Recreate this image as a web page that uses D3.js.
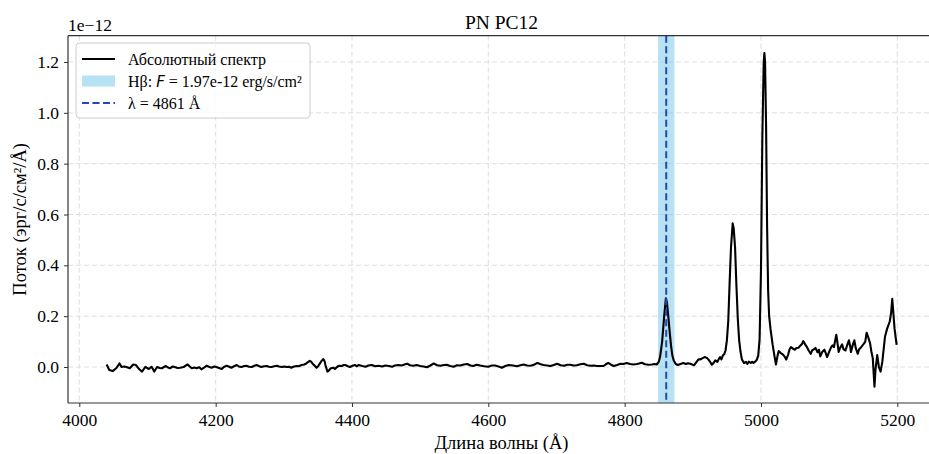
<!DOCTYPE html>
<html><head><meta charset="utf-8">
<script src="https://cdn.jsdelivr.net/npm/d3@7"></script>
<style>
body{margin:0;background:#fff;}
text{font-family:"Liberation Serif","Times New Roman",serif;fill:#000;}
</style>
</head><body>
<svg id="chart" width="929" height="454"></svg>
<script>
// Data (flux in units of 1e-12 erg/s/cm²/Å)
const wavelength = [4040,4044,4049,4054,4059,4062,4066,4069,4074,4079,4083,4088,4092,4097,4102,4106,4110,4114,4118,4121,4127,4130,4133,4137,4140,4144,4148,4153,4159,4162,4165,4169,4172,4176,4179,4183,4187,4190,4194,4198,4201,4205,4209,4212,4216,4220,4223,4227,4231,4234,4238,4242,4245,4249,4253,4256,4260,4264,4267,4271,4275,4278,4282,4286,4290,4293,4297,4301,4304,4308,4311,4315,4319,4322,4326,4330,4333,4336,4338,4340,4342,4345,4348,4350,4353,4356,4358,4360,4361,4364,4366,4369,4373,4375,4378,4381,4385,4388,4390,4394,4397,4400,4404,4407,4410,4415,4420,4424,4429,4434,4439,4444,4449,4454,4459,4463,4468,4473,4477,4481,4485,4490,4495,4500,4505,4510,4515,4520,4525,4530,4535,4539,4544,4549,4554,4559,4564,4569,4574,4578,4583,4588,4594,4600,4605,4610,4615,4620,4625,4630,4636,4642,4647,4652,4657,4662,4667,4672,4677,4681,4686,4691,4696,4701,4706,4711,4716,4720,4725,4730,4735,4740,4745,4750,4755,4759,4764,4769,4772,4776,4780,4784,4789,4794,4798,4803,4808,4813,4818,4821,4825,4830,4835,4840,4844,4847,4850,4852,4855,4858,4860.5,4862,4864,4866,4868,4870,4872,4875,4878,4882,4886,4890,4893,4896,4899,4902,4905,4908,4912,4915,4918,4921,4923,4926,4928,4931,4933,4936,4938,4940,4942,4944,4946,4948,4950,4952,4954,4956,4958.5,4960,4962,4964,4966,4968,4970,4972,4975,4978,4980,4982,4985,4987,4989,4992,4994,4996,4998,5000,5002,5004,5005,5006,5007.5,5009,5010.5,5012,5014,5017,5020,5022,5024,5026,5029,5032,5035,5037,5040,5042,5044,5047,5050,5052,5055,5058,5060,5062,5065,5067.5,5070,5073,5075,5078,5080,5083,5085,5087,5090,5093,5095,5097,5100,5103,5105,5107,5110.5,5112,5114,5116,5119,5121,5124,5126,5129,5131,5132,5135,5137,5139,5142,5144,5147,5149,5151,5153,5155,5157,5160,5162,5164,5166.5,5168,5170.5,5173,5175.5,5178,5180,5182,5185,5187,5189,5191,5192.6,5194,5196,5199];
const flux = [0.010,-0.012,-0.016,-0.005,0.014,0.000,0.002,0.000,-0.005,0.010,0.008,-0.009,-0.018,0.001,-0.008,0.001,-0.018,0.000,-0.004,-0.005,0.004,-0.002,-0.005,0.002,0.000,-0.004,-0.003,0.000,0.010,0.002,-0.005,-0.002,-0.005,-0.001,-0.009,-0.002,0.005,0.001,-0.003,0.002,0.000,-0.004,-0.008,0.000,0.005,0.001,-0.003,0.003,0.008,0.002,0.000,0.004,0.005,0.001,0.000,0.004,0.008,0.003,0.000,0.003,0.004,0.001,0.000,0.003,0.005,0.002,0.000,0.002,0.000,0.001,-0.003,0.002,0.004,0.003,0.008,0.010,0.014,0.020,0.024,0.021,0.014,0.006,-0.003,0.002,0.014,0.026,0.031,0.022,0.008,-0.018,-0.014,-0.005,-0.003,-0.008,0.000,0.005,0.004,0.008,0.008,0.003,0.000,0.004,0.008,0.003,0.008,0.004,0.001,0.006,0.008,0.003,0.005,0.002,0.006,0.004,0.001,0.006,0.008,0.006,0.010,0.013,0.007,0.005,0.008,0.004,0.002,-0.001,0.006,0.014,0.007,0.005,0.008,0.009,0.004,0.001,0.007,0.006,0.010,0.012,0.006,0.004,0.009,0.006,0.003,0.001,0.006,0.006,0.002,-0.003,0.004,0.008,0.006,0.003,0.007,0.010,0.006,0.005,0.009,0.016,0.011,0.008,0.006,0.004,0.008,0.013,0.007,0.005,0.009,0.009,0.006,0.007,0.011,0.013,0.007,0.005,0.006,0.004,0.004,0.004,0.010,0.016,0.009,0.004,0.008,0.013,0.012,0.016,0.012,0.010,0.012,0.014,0.017,0.011,0.009,0.010,0.012,0.010,0.020,0.040,0.100,0.200,0.270,0.255,0.200,0.140,0.085,0.045,0.026,0.012,0.008,0.012,0.016,0.012,0.015,0.013,0.010,0.007,0.018,0.029,0.031,0.036,0.039,0.035,0.029,0.018,0.009,0.018,0.026,0.020,0.031,0.039,0.030,0.045,0.050,0.065,0.105,0.180,0.330,0.470,0.565,0.545,0.470,0.320,0.190,0.105,0.060,0.030,0.016,0.020,0.012,0.021,0.016,0.020,0.016,0.022,0.029,0.045,0.110,0.380,0.900,1.200,1.235,1.200,0.950,0.550,0.300,0.200,0.150,0.090,0.040,0.010,0.040,0.063,0.055,0.050,0.040,0.029,0.050,0.070,0.078,0.072,0.068,0.075,0.076,0.085,0.090,0.102,0.088,0.078,0.065,0.052,0.065,0.070,0.075,0.058,0.068,0.042,0.060,0.068,0.055,0.039,0.060,0.078,0.085,0.078,0.127,0.100,0.059,0.075,0.089,0.070,0.065,0.082,0.105,0.080,0.059,0.090,0.105,0.075,0.052,0.070,0.078,0.085,0.092,0.100,0.135,0.120,0.094,0.060,0.035,-0.077,-0.010,0.047,0.000,-0.018,0.020,0.070,0.120,0.150,0.165,0.180,0.215,0.268,0.220,0.150,0.087];
const xTicks = [4000,4200,4400,4600,4800,5000,5200];
const yTicks = [0.0,0.2,0.4,0.6,0.8,1.0,1.2];
const hbCenter = 4861;
const hbBand = [4849,4873];
const titleText = "PN PC12";
const xLabel = "Длина волны (Å)";
const yLabel = "Поток (эрг/с/см²/Å)";
const legendLabels = ["Абсолютный спектр","Hβ: ","λ = 4861 Å"];

const svg = d3.select("#chart");
const L = 68, R = 935, T = 35.7, B = 403;
const x = d3.scaleLinear().domain([3983.4, 5255.3]).range([L, R]);
const y = d3.scaleLinear().domain([-0.1416, 1.3035]).range([B, T]);

// grid
const grid = svg.append("g");
grid.selectAll(".gx").data(xTicks).join("line")
  .attr("x1", d=>x(d)).attr("x2", d=>x(d)).attr("y1", T).attr("y2", B)
  .attr("stroke","#d9d9d9").attr("stroke-width",0.9).attr("stroke-dasharray","5,3");
grid.selectAll(".gy").data(yTicks).join("line")
  .attr("x1", L).attr("x2", R).attr("y1", d=>y(d)).attr("y2", d=>y(d))
  .attr("stroke","#d9d9d9").attr("stroke-width",0.9).attr("stroke-dasharray","5,3");

// H-beta band
svg.append("rect").attr("x", x(hbBand[0])).attr("width", x(hbBand[1])-x(hbBand[0]))
  .attr("y", T).attr("height", B-T).attr("fill","#87ceeb").attr("fill-opacity",0.6);

// spectrum
const pts = wavelength.map((w,i)=>[w, flux[i]]);
svg.append("path").datum(pts)
  .attr("d", d3.line().x(d=>x(d[0])).y(d=>y(d[1])))
  .attr("fill","none").attr("stroke","#000").attr("stroke-width",2.1).attr("stroke-linejoin","round");

// H-beta line
svg.append("line").attr("x1", x(hbCenter)).attr("x2", x(hbCenter)).attr("y1", T).attr("y2", B)
  .attr("stroke","#2447b8").attr("stroke-width",2).attr("stroke-dasharray","7,3.5");

// axes
const xAxis = svg.append("g").attr("transform",`translate(0,${B})`)
  .call(d3.axisBottom(x).tickValues(xTicks).tickSize(4).tickPadding(7).tickFormat(d3.format("d")));
const yAxis = svg.append("g").attr("transform",`translate(${L},0)`)
  .call(d3.axisLeft(y).tickValues(yTicks).tickSize(4).tickPadding(5).tickFormat(d3.format(".1f")));
[xAxis,yAxis].forEach(a=>{
  a.select(".domain").remove();
  a.selectAll("line").attr("stroke","#333");
  a.selectAll("text").attr("font-size",17.5).attr("font-family","Liberation Serif").attr("fill","#000");
});
// spines
svg.append("line").attr("x1",L).attr("x2",R).attr("y1",B).attr("y2",B).attr("stroke","#333").attr("stroke-width",1.2);
svg.append("line").attr("x1",L).attr("x2",R).attr("y1",T).attr("y2",T).attr("stroke","#333").attr("stroke-width",1.2);
svg.append("line").attr("x1",L).attr("x2",L).attr("y1",T).attr("y2",B).attr("stroke","#333").attr("stroke-width",1.2);

// offset text
svg.append("text").attr("x",L).attr("y",31).attr("font-size",17.5).text("1e\u221212");
// title
svg.append("text").attr("x",(L+R)/2).attr("y",29).attr("text-anchor","middle").attr("font-size",19.5).text(titleText);
// axis labels
svg.append("text").attr("x",(L+R)/2).attr("y",449).attr("text-anchor","middle").attr("font-size",18.5).text(xLabel);
svg.append("text").attr("transform",`translate(26,${(T+B)/2}) rotate(-90)`).attr("text-anchor","middle").attr("font-size",18.5).text(yLabel);

// legend
const lg = svg.append("g");
lg.append("rect").attr("x",76).attr("y",43).attr("width",234).attr("height",75).attr("rx",3.5)
  .attr("fill","#fff").attr("fill-opacity",0.8).attr("stroke","#cccccc").attr("stroke-width",1);
const rows = [59, 81, 103];
lg.append("line").attr("x1",82).attr("x2",115).attr("y1",rows[0]).attr("y2",rows[0]).attr("stroke","#000").attr("stroke-width",2.1);
lg.append("rect").attr("x",82).attr("y",rows[1]-5.5).attr("width",33).attr("height",11).attr("fill","#87ceeb").attr("fill-opacity",0.6);
lg.append("line").attr("x1",82).attr("x2",115).attr("y1",rows[2]).attr("y2",rows[2]).attr("stroke","#2447b8").attr("stroke-width",2).attr("stroke-dasharray","7,3.5");
lg.append("text").attr("x",128).attr("y",rows[0]+5.5).attr("font-size",16).text(legendLabels[0]);
const t2 = lg.append("text").attr("x",128).attr("y",rows[1]+5.5).attr("font-size",16);
t2.append("tspan").text(legendLabels[1]);
t2.append("tspan").attr("font-family","DejaVu Sans").attr("font-style","italic").attr("font-size",15).text("F");
t2.append("tspan").text(" = 1.97e-12 erg/s/cm²");
lg.append("text").attr("x",128).attr("y",rows[2]+5.5).attr("font-size",16).text(legendLabels[2]);
</script>
</body></html>
